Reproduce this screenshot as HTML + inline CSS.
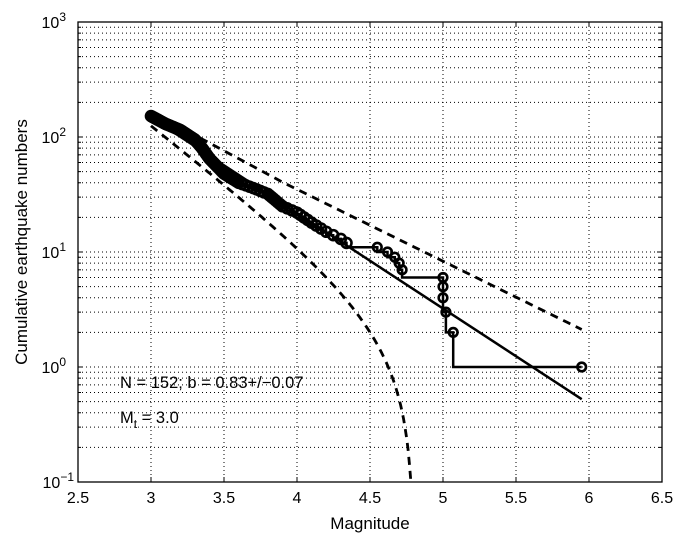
<!DOCTYPE html>
<html><head><meta charset="utf-8"><style>
body{margin:0;background:#fff;}
svg{display:block;font-family:"Liberation Sans",sans-serif;}
</style></head><body>
<svg id="s" width="689" height="550" viewBox="0 0 689 550" xmlns="http://www.w3.org/2000/svg">
<rect width="689" height="550" fill="#fff"/>
<g id="grid" stroke="#000" stroke-width="1" stroke-dasharray="1,3"></g>
<g id="curves" fill="none" stroke="#000"></g>
<rect x="78" y="22" width="584" height="460" fill="none" stroke="#000" stroke-width="1.3"/>
<g id="ticks" stroke="#000" stroke-width="1"></g>
<g font-size="16" text-anchor="middle" fill="#000">
<text x="78" y="503">2.5</text><text x="151" y="503">3</text><text x="224" y="503">3.5</text><text x="297" y="503">4</text><text x="370" y="503">4.5</text><text x="443" y="503">5</text><text x="516" y="503">5.5</text><text x="589" y="503">6</text><text x="662" y="503">6.5</text>
</g>
<g font-size="16" text-anchor="end" fill="#000">
<text x="66" y="28">10<tspan font-size="12" dy="-7">3</tspan></text>
<text x="66" y="143">10<tspan font-size="12" dy="-7">2</tspan></text>
<text x="66" y="258">10<tspan font-size="12" dy="-7">1</tspan></text>
<text x="66" y="373">10<tspan font-size="12" dy="-7">0</tspan></text>
<text x="74" y="488">10<tspan font-size="12" dy="-7">−1</tspan></text>
</g>
<text x="370" y="529" font-size="17" text-anchor="middle">Magnitude</text>
<text transform="translate(27,242) rotate(-90)" font-size="17" text-anchor="middle">Cumulative earthquake numbers</text>
<text x="120" y="388" font-size="16.5">N = 152;  b = 0.83+/−0.07</text>
<text x="120" y="423" font-size="16.5">M<tspan font-size="12" dy="5">t</tspan><tspan dy="-5"> = 3.0</tspan></text>
</svg>
<script>
var L=78,R=662,T=22,B=482,D=(B-T)/4;
function X(m){return L+(m-2.5)*(R-L)/4;}
function Y(n){return T+(3-Math.log10(n))*D;}
var ns="http://www.w3.org/2000/svg";
function el(p,t,a){var e=document.createElementNS(ns,t);for(var k in a)e.setAttribute(k,a[k]);p.appendChild(e);return e;}
var g=document.getElementById('grid'),tk=document.getElementById('ticks'),c=document.getElementById('curves');
for(var m=3;m<6.4;m+=0.5){el(g,'line',{x1:X(m),x2:X(m),y1:T,y2:B});el(tk,'line',{x1:X(m),x2:X(m),y1:B,y2:B-5});el(tk,'line',{x1:X(m),x2:X(m),y1:T,y2:T+5});}
for(var d=-1;d<3;d++)for(var k=1;k<10;k++){var y=Y(k*Math.pow(10,d));if(k>1||d>-1){el(g,'line',{x1:L,x2:R,y1:y,y2:y});}
 var len=k==1?5:3;el(tk,'line',{x1:L,x2:L+len,y1:y,y2:y});el(tk,'line',{x1:R,x2:R-len,y1:y,y2:y});}
function poly(pts,a){var s=pts.map(function(p){return X(p[0]).toFixed(1)+','+Y(p[1]).toFixed(2)}).join(' ');a.points=s;return el(c,'polyline',a);}
poly([[3,Math.pow(10,1.04+0.83*1.36)],[5.95,Math.pow(10,1.04-0.83*1.59)]],{'stroke-width':2.5});
var up=[];for(var m=3;m<=5.96;m+=0.05){var l=2.22-0.68*(m-3);if(m>3.88)l=1.62-0.625*(m-3.88);up.push([m,Math.pow(10,l)]);}
poly(up,{'stroke-width':2.8,'stroke-dasharray':'8,6'});
var lo=[];for(var m=3;m<=4.78;m+=0.01){var n=127*(Math.pow(10,-(m-3))-Math.pow(10,-1.8));if(n<0.1)n=0.1;lo.push([m,n]);}
lo.push([4.782,0.1]);
poly(lo,{'stroke-width':2.8,'stroke-dasharray':'8,6'});
var knots=[[3.0,152],[3.1,130],[3.2,115],[3.3,95],[3.35,80],[3.4,65],[3.5,48],[3.6,40],[3.7,36],[3.8,32],[3.9,25],[4.0,22],[4.1,18],[4.2,15],[4.3,13],[4.36,11.5]];
var pts=[];
for(var n=152;n>=12;n--){for(var i=0;i<knots.length-1;i++){var a=knots[i],b=knots[i+1];if(n<=a[1]&&n>=b[1]){var f=(Math.log(a[1])-Math.log(n))/(Math.log(a[1])-Math.log(b[1]));pts.push([a[0]+f*(b[0]-a[0]),n]);break;}}}
var tail=[[4.55,11],[4.62,10],[4.67,9],[4.7,8],[4.72,7],[5.0,6],[5.0,5],[5.0,4],[5.02,3],[5.07,2],[5.95,1]];
var all=pts.concat(tail);
var stair=[all[0]];
for(var i=1;i<all.length;i++){stair.push([all[i-1][0],all[i][1]]);stair.push(all[i]);}
poly(stair,{'stroke-width':2.5});
all.forEach(function(p,i){el(c,'circle',{cx:X(p[0]),cy:Y(p[1]),r:i<pts.length?5:4.3,'stroke-width':2.6,fill:'none'});});
</script>
</body></html>
